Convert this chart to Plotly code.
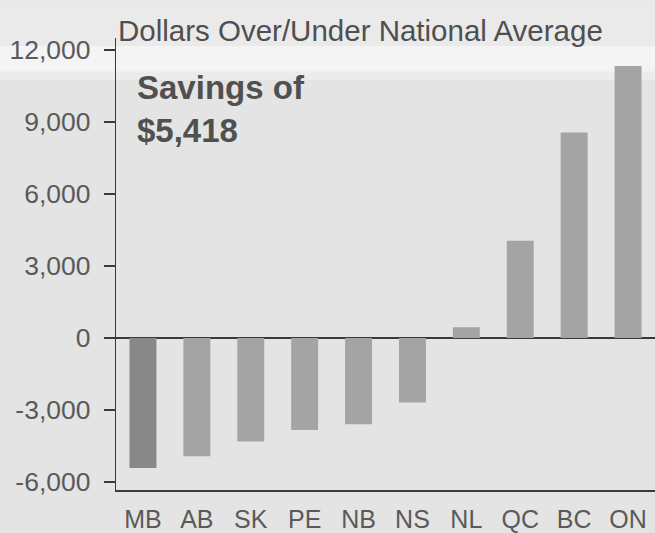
import plotly.graph_objects as go

provinces = ["MB", "AB", "SK", "PE", "NB", "NS", "NL", "QC", "BC", "ON"]
difference = [-5418, -4920, -4310, -3830, -3590, -2680, 450, 4050, 8560, 11330]
bar_colors = ["#888888"] + ["#a4a4a4"] * 9
y_ticks = [-6000, -3000, 0, 3000, 6000, 9000, 12000]
y_tick_text = ["-6,000", "-3,000", "0", "3,000", "6,000", "9,000", "12,000"]
title_text = "Dollars Over/Under National Average"
callout_text = "<b>Savings of<br>$5,418</b>"

W, H = 655, 533
L, R, T, B = 116, 0, 38, 40
plot_h = H - T - B
plot_w = W - L - R

def py(p):
    return (H - B - p) / plot_h

fig = go.Figure(go.Bar(
    x=provinces, y=difference, marker=dict(color=bar_colors, line=dict(width=0)),
    width=0.5, hoverinfo="skip",
))

band = [(0, 46, "#eaeaea"), (46, 72, "#f4f4f4"), (72, 80, "#ececec")]
shapes = [
    dict(type="rect", xref="paper", yref="paper", x0=-L / plot_w, x1=1,
         y0=py(b), y1=py(a), fillcolor=c, line=dict(width=0), layer="below")
    for a, b, c in band
]

fig.update_layout(
    width=W, height=H,
    margin=dict(l=L, r=R, t=T, b=B, pad=0),
    paper_bgcolor="#e4e4e4", plot_bgcolor="rgba(0,0,0,0)",
    showlegend=False,
    font=dict(family="Liberation Sans, Arial, sans-serif", color="#555555"),
    xaxis=dict(
        type="category", range=[-0.5, 9.5], showgrid=False, zeroline=False,
        showline=True, linecolor="#3a3a3a", linewidth=1.5, ticks="",
        tickfont=dict(size=25, color="#5a5a5a"), fixedrange=True,
        ticklabelstandoff=6,
    ),
    yaxis=dict(
        range=[-6330, 12500], tickvals=y_ticks, ticktext=y_tick_text,
        showgrid=False, zeroline=True, zerolinecolor="#3a3a3a", zerolinewidth=1.5,
        showline=True, linecolor="#3a3a3a", linewidth=1.2,
        ticks="outside", ticklen=11, tickcolor="#3a3a3a", tickwidth=1.2,
        tickfont=dict(size=26.5, color="#5a5a5a"), fixedrange=True,
        ticklabelstandoff=8,
    ),
    shapes=shapes,
    annotations=[
        dict(text=title_text, xref="paper", yref="paper", x=0, y=py(30),
             xanchor="left", yanchor="middle", showarrow=False,
             font=dict(size=29.5, color="#4f4f4f")),
        dict(text=callout_text, xref="paper", yref="paper", x=(135 - L) / plot_w,
             y=py(109), xanchor="left", yanchor="middle", align="left",
             showarrow=False, font=dict(size=33, color="#505050")),
    ],
)

fig.write_html(
    "out.html",
    config={"displayModeBar": False, "staticPlot": True},
    post_script="document.body.style.margin='0';document.body.style.padding='0';",
)
